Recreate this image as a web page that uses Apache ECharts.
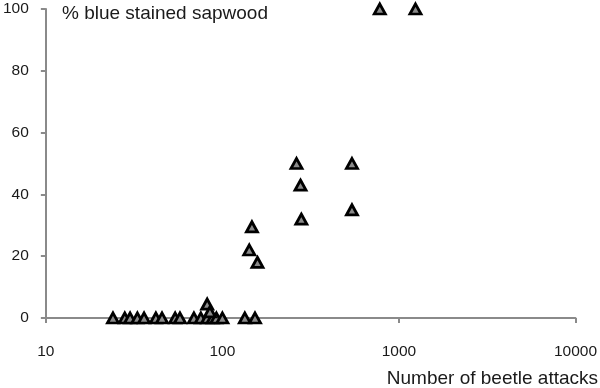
<!DOCTYPE html>
<html>
<head>
<meta charset="utf-8">
<script src="https://cdn.jsdelivr.net/npm/echarts@6/dist/echarts.min.js"></script>
<style>
html,body{margin:0;padding:0;background:#fff;}
#chart{width:600px;height:388px;}
</style>
</head>
<body>
<div id="chart"></div>
<script>
// Number of beetle attacks (x) and % blue stained sapwood (y)
var attacks = [24, 28, 30, 33, 36, 42, 45.5, 54, 57.5, 69, 75.5, 82, 88, 92.5, 100, 134, 153,
               82, 85, 263, 542, 277, 542, 280, 147, 142, 158, 779, 1241];
var stained = [0, 0, 0, 0, 0, 0, 0, 0, 0, 0, 0, 0, 0, 0, 0, 0, 0,
               4.5, 2, 50, 50, 43, 35, 32, 29.5, 22, 18, 100, 100];
var xTicks = [10, 100, 1000, 10000];
var yTicks = [0, 20, 40, 60, 80, 100];
var xTitle = 'Number of beetle attacks';
var yTitle = '% blue stained sapwood';

var points = attacks.map(function (v, i) { return [v, stained[i]]; });

var chart = echarts.init(document.getElementById('chart'), null, {renderer: 'canvas'});
var axisColor = '#8a8a8a';
var font = 'Liberation Sans, Arial, sans-serif';
chart.setOption({
  animation: false,
  grid: {left: 44, right: 22, top: 9, bottom: 70, containLabel: false},
  xAxis: {
    type: 'log', logBase: 10, min: xTicks[0], max: xTicks[xTicks.length - 1],
    axisLine: {show: true, onZero: false, lineStyle: {color: axisColor, width: 2}},
    axisTick: {show: true, inside: false, length: 5, lineStyle: {color: axisColor, width: 2}},
    minorTick: {show: false},
    splitLine: {show: false},
    axisLabel: {color: '#1a1a1a', fontSize: 15.5, fontFamily: font, margin: 26,
      formatter: function (v) { return String(Math.round(v)); }}
  },
  yAxis: {
    type: 'value', min: yTicks[0], max: yTicks[yTicks.length - 1], interval: 20,
    axisLine: {show: true, lineStyle: {color: axisColor, width: 2}},
    axisTick: {show: true, inside: false, length: 5, lineStyle: {color: axisColor, width: 2}},
    splitLine: {show: false},
    axisLabel: {color: '#1a1a1a', fontSize: 15.5, fontFamily: font, margin: 17}
  },
  graphic: [
    {type: 'text', left: 62, top: 4, style: {text: yTitle, fill: '#1a1a1a', font: '19px ' + font}},
    {type: 'text', right: 2, top: 369, style: {text: xTitle, fill: '#1a1a1a', font: '19px ' + font}}
  ],
  series: [{
    type: 'scatter',
    data: points,
    symbol: 'triangle',
    symbolSize: [11, 10],
    itemStyle: {color: '#8a8a8a', borderColor: '#000', borderWidth: 2.8, opacity: 1}
  }]
});
</script>
</body>
</html>
